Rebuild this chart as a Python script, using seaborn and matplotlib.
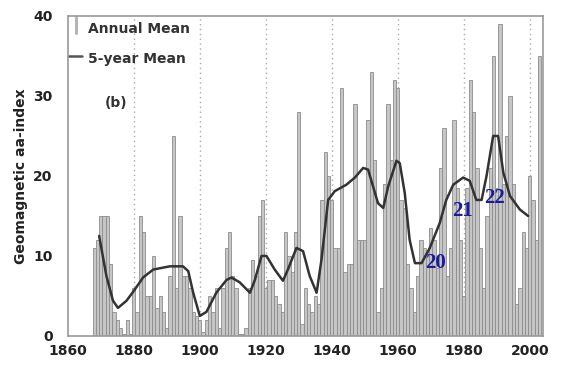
import matplotlib
matplotlib.use("Agg")
import matplotlib.pyplot as plt
import seaborn as sns
import pandas as pd

# annual mean aa-index, 1868-2003
years = list(range(1868, 2004))
annual_mean = [
    11, 12, 15, 15, 15, 9, 3, 2, 1, 0.3,          # 1868-1877
    2, 0.3, 6, 3, 15, 13, 5, 5, 10, 3.5,          # 1878-1887
    5, 3, 1, 7.5, 25, 6, 15, 7.5, 7.5, 6,         # 1888-1897
    3, 2.5, 2, 0.5, 2, 5, 3, 6, 1, 6,             # 1898-1907
    11, 13, 7.5, 6, 0.3, 0.2, 1, 6, 9.5, 7.5,     # 1908-1917
    15, 17, 6, 7, 7, 5, 4, 3, 13, 10,             # 1918-1927
    8, 13, 28, 1.5, 6, 4, 3, 5, 4, 17,            # 1928-1937
    23, 20, 17, 11, 11, 31, 8, 9, 9, 29,          # 1938-1947
    12, 12, 12, 27, 33, 22, 3, 6, 19, 29,         # 1948-1957
    22, 32, 31, 17, 16, 9, 6, 3, 7.5, 12,         # 1958-1967
    11, 10.5, 13.5, 12, 8.5, 21, 26, 7.5, 11, 27, # 1968-1977
    18.5, 12, 5, 18.5, 32, 28, 21, 11, 6, 15,     # 1978-1987
    21, 35, 18.5, 39, 19, 25, 30, 19, 4, 6,       # 1988-1997
    13, 11, 20, 17, 12, 35,                       # 1998-2003
]

# 5-year running mean curve
smooth_years = [
    1869.5, 1871.7, 1873.7, 1875.2, 1877.8, 1880.3, 1882.8, 1885.9, 1890.9,
    1894.9, 1896.5, 1898.0, 1900.0, 1902.0, 1905.0, 1908.1, 1909.6, 1912.1,
    1915.2, 1916.7, 1918.7, 1920.2, 1922.7, 1925.2, 1926.8, 1929.3, 1931.3,
    1933.3, 1935.4, 1936.9, 1938.9, 1940.9, 1944.4, 1947.0, 1949.5, 1951.0,
    1952.5, 1954.0, 1955.6, 1957.1, 1959.6, 1960.6, 1962.1, 1963.6, 1965.2,
    1967.2, 1969.7, 1972.7, 1974.7, 1976.8, 1979.8, 1981.8, 1983.8, 1985.4,
    1986.9, 1988.9, 1990.4, 1992.0, 1994.0, 1997.0, 1999.5,
]
smooth_mean = [
    12.5, 7.5, 4.4, 3.5, 4.4, 5.8, 7.3, 8.3, 8.7,
    8.7, 8.1, 5.4, 2.5, 3.0, 5.4, 7.0, 7.3, 6.7,
    5.4, 7.0, 10.0, 10.0, 8.3, 6.9, 8.4, 11.0, 10.6,
    7.5, 5.4, 9.6, 17.0, 18.1, 18.9, 19.8, 21.0, 20.8,
    18.7, 16.6, 16.0, 18.7, 21.9, 21.6, 17.9, 12.0, 9.1,
    9.1, 11.0, 14.1, 17.0, 18.9, 19.8, 19.4, 17.0, 17.0,
    20.0, 25.0, 25.0, 20.4, 17.5, 15.8, 15.0,
]

# solar cycle labels
cycle_labels = ["20", "21", "22"]
cycle_x = [1971.5, 1979.5, 1989.4]
cycle_y = [9.1, 15.6, 17.2]

x_ticks = list(range(1860, 2001, 20))
y_ticks = [0, 10, 20, 30, 40]

sns.set_theme(style="white")
plt.rcParams["font.family"] = ["DejaVu Sans"]

bars = pd.DataFrame({"year": years, "aa": annual_mean})

fig, ax = plt.subplots(figsize=(5.65, 3.72), dpi=100)
fig.subplots_adjust(left=0.120, right=0.961, bottom=0.097, top=0.957)

# dotted vertical grid
for xt in x_ticks[1:]:
    ax.axvline(xt, color="#aaaaaa", lw=1.0, ls=(0, (1, 2.5)), zorder=0)

sns.barplot(data=bars, x="year", y="aa", native_scale=True, width=1.0,
            color="#c6c6c6", edgecolor="#8c8c8c", linewidth=0.6,
            errorbar=None, ax=ax, zorder=1, saturation=1)
sns.lineplot(x=smooth_years, y=smooth_mean, color="#333333", lw=1.8,
             ax=ax, zorder=3)

for lab, cx, cy in zip(cycle_labels, cycle_x, cycle_y):
    ax.text(cx, cy, lab, ha="center", va="center", fontsize=15,
            fontweight="bold", family="Liberation Serif", color="#1c1c9a",
            zorder=4)

ax.set_xlim(1860, 2004)
ax.set_ylim(0, 40)
ax.set_xticks(x_ticks)
ax.set_yticks(y_ticks)
ax.tick_params(axis="y", direction="inout", length=14, width=1,
               color="#999999", labelsize=10, labelcolor="#222222", pad=4)
ax.tick_params(axis="x", direction="inout", length=6, width=1,
               color="#999999", labelsize=10, labelcolor="#222222", pad=3)
for lbl in ax.get_xticklabels() + ax.get_yticklabels():
    lbl.set_fontweight("bold")

for sp in ax.spines.values():
    sp.set_color("#999999")
    sp.set_linewidth(1.2)

ax.set_xlabel("")
ax.set_ylabel("Geomagnetic aa-index", fontsize=10, fontweight="bold",
              color="#222222", labelpad=4)

# legend drawn by hand like the original
ax.plot([0.017, 0.017], [0.947, 0.997], transform=ax.transAxes,
        color="#b5b5b5", lw=2.2, clip_on=False)
ax.plot([0.0, 0.03], [0.875, 0.875], transform=ax.transAxes,
        color="#555555", lw=1.8, clip_on=False)
ax.text(0.042, 0.959, "Annual Mean", transform=ax.transAxes, fontsize=10,
        fontweight="bold", color="#333333", va="center", ha="left")
ax.text(0.042, 0.866, "5-year Mean", transform=ax.transAxes, fontsize=10,
        fontweight="bold", color="#333333", va="center", ha="left")
ax.text(0.101, 0.728, "(b)", transform=ax.transAxes, fontsize=10,
        fontweight="bold", color="#333333", va="center", ha="center")

fig.savefig("out.png", dpi=100, facecolor="white")
